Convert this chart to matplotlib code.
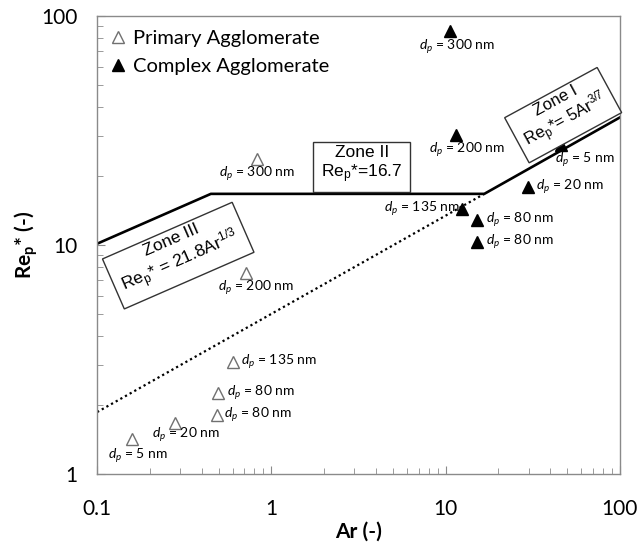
import numpy as np
import matplotlib
matplotlib.use("Agg")
import matplotlib.pyplot as plt

plt.rcParams['font.family'] = ['Lato', 'DejaVu Sans']
plt.rcParams['mathtext.fontset'] = 'custom'
plt.rcParams['mathtext.rm'] = 'Lato'
plt.rcParams['mathtext.it'] = 'Lato:italic'
plt.rcParams['mathtext.bf'] = 'Lato:bold'

# Primary agglomerates (open triangles)
prim_ar = [0.159, 0.280, 0.494, 0.488, 0.603, 0.716, 0.828]
prim_re = [1.42, 1.67, 2.26, 1.81, 3.08, 7.55, 23.7]
prim_dp = [5, 20, 80, 80, 135, 200, 300]

# Complex agglomerates (filled triangles)
comp_ar = [45.9, 29.7, 15.1, 15.1, 12.4, 11.5, 10.6]
comp_re = [27.3, 17.9, 12.9, 10.3, 14.4, 30.2, 86.0]
comp_dp = [5, 20, 80, 80, 135, 200, 300]

# zone correlations
zone3_coef, zone3_exp = 21.8, 1.0 / 3.0
zone2_value = 16.7
zone1_coef, zone1_exp = 5.0, 3.0 / 7.0

# label placement per point: (dx px, dy px, ha)
prim_lab = [(6, -17, 'center'), (11, -12, 'center'), (9, 0, 'left'), (7, 0, 'left'),
            (8, 0, 'left'), (10, -15, 'center'), (0, -15, 'center')]
comp_lab = [(24, -15, 'center'), (8, 0, 'left'), (9, 0, 'left'), (9, 0, 'left'),
            (-2, 0, 'right'), (11, -15, 'center'), (7, -16, 'center')]

fig = plt.figure(figsize=(6.39, 5.43), dpi=100)
ax = fig.add_axes([0.152, 0.127, 0.818, 0.844])
ax.set_xscale('log')
ax.set_yscale('log')
ax.set_xlim(0.1, 100)
ax.set_ylim(1, 100)

# piecewise solid line through the three zones
ar_23 = (zone2_value / zone3_coef) ** (1 / zone3_exp)
ar_12 = (zone2_value / zone1_coef) ** (1 / zone1_exp)
x3 = np.logspace(-1, np.log10(ar_23), 50)
x1 = np.logspace(np.log10(ar_12), 2, 50)
xs = np.concatenate([x3, [ar_12], x1])
ys = np.concatenate([zone3_coef * x3 ** zone3_exp, [zone2_value], zone1_coef * x1 ** zone1_exp])
ax.plot(xs, ys, color='black', lw=1.9, zorder=2)

# zone I extended below the plateau
xd = np.logspace(-1, np.log10(ar_12), 80)
ax.plot(xd, zone1_coef * xd ** zone1_exp, color='black', lw=1.6, ls=(0, (1, 1.4)), zorder=2)

ax.plot(prim_ar, prim_re, ls='none', marker='^', ms=9, mfc='white', mec='#707070',
        mew=1.0, label='Primary Agglomerate', zorder=3)
ax.plot(comp_ar, comp_re, ls='none', marker='^', ms=9, mfc='black', mec='black',
        mew=1.0, label='Complex Agglomerate', zorder=3)

for x, y, d, (dx, dy, ha) in zip(prim_ar, prim_re, prim_dp, prim_lab):
    ax.annotate(r'$\mathit{d_p}$ = %d nm' % d, (x, y), xytext=(dx, dy),
                textcoords='offset pixels', ha=ha, va='center', fontsize=10)
for x, y, d, (dx, dy, ha) in zip(comp_ar, comp_re, comp_dp, comp_lab):
    ax.annotate(r'$\mathit{d_p}$ = %d nm' % d, (x, y), xytext=(dx, dy),
                textcoords='offset pixels', ha=ha, va='center', fontsize=10)

box = dict(boxstyle='square,pad=0.45', fc='white', ec='#333333', lw=1.0)
box1 = dict(boxstyle='square,pad=0.4', fc='white', ec='#333333', lw=1.0)
zone_font = ['Liberation Sans', 'DejaVu Sans']
ax.text(3.31, 22.4, 'Zone II\nRe$_\\mathregular{p}$*=16.7', ha='center', va='center',
        fontsize=12.5, family=zone_font, bbox=box, linespacing=1.15, zorder=4)
ax.text(0.288, 9.2, 'Zone III\nRe$_\\mathregular{p}$* = 21.8Ar$^\\mathregular{1/3}$',
        ha='center', va='center', fontsize=12.5, family=zone_font, bbox=box,
        rotation=23.6, rotation_mode='anchor', linespacing=1.15, zorder=4)
ax.text(46.5, 37.7, 'Zone I\nRe$_\\mathregular{p}$*= 5Ar$^\\mathregular{3/7}$',
        ha='center', va='center', fontsize=12, family=zone_font, bbox=box1,
        rotation=28.5, rotation_mode='anchor', linespacing=1.1, zorder=4)

ax.legend(loc='upper left', bbox_to_anchor=(0.0, 1.0), frameon=False, fontsize=14.5,
          handlelength=0.7, handletextpad=0.4, labelspacing=0.55, borderaxespad=0.3)

for s in ax.spines.values():
    s.set_color('#8a8a8a')
    s.set_linewidth(1.0)
ax.tick_params(which='both', direction='in', colors='#8a8a8a', labelcolor='black')
ax.tick_params(which='major', length=6, labelsize=15)
ax.tick_params(which='minor', length=4)
ax.tick_params(axis='x', which='major', pad=18)
ax.tick_params(axis='y', which='major', pad=14)
ax.set_xticks([0.1, 1, 10, 100])
ax.set_xticklabels(['0.1', '1', '10', '100'])
ax.set_yticks([1, 10, 100])
ax.set_yticklabels(['1', '10', '100'])

ax.set_xlabel('Ar (-)', fontsize=15, fontweight='bold', labelpad=2)
ax.set_ylabel(r'Re$_\mathbf{p}$* (-)', fontsize=15, fontweight='bold', labelpad=1)

fig.savefig('out.png', dpi=100)
